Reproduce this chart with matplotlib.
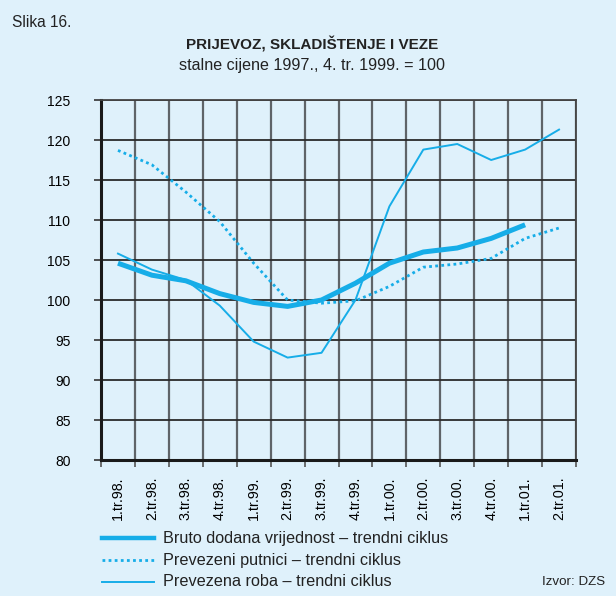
import matplotlib
matplotlib.use("Agg")
import matplotlib.pyplot as plt
from matplotlib.lines import Line2D
import numpy as np

categories = ["1.tr.98.", "2.tr.98.", "3.tr.98.", "4.tr.98.", "1.tr.99.", "2.tr.99.", "3.tr.99.",
              "4.tr.99.", "1.tr.00.", "2.tr.00.", "3.tr.00.", "4.tr.00.", "1.tr.01.", "2.tr.01."]
bruto = [104.6, 103.1, 102.4, 100.8, 99.7, 99.2, 100.0, 102.1, 104.6, 106.0, 106.5, 107.7, 109.4]
putnici = [118.7, 116.9, 113.5, 109.8, 104.6, 100.0, 99.6, 99.9, 101.7, 104.1, 104.5, 105.2, 107.7, 109.0]
roba = [105.8, 103.8, 102.5, 99.3, 94.8, 92.8, 93.4, 100.0, 111.7, 118.8, 119.5, 117.5, 118.8, 121.3]
yticks = [80, 85, 90, 95, 100, 105, 110, 115, 120, 125]

BG = "#dff1fb"
LC = "#16ade8"
plt.rcParams['font.family'] = ['Liberation Sans', 'DejaVu Sans']

fig = plt.figure(figsize=(6.16, 5.96), dpi=100, facecolor=BG)
ax = fig.add_axes([101/616, 1-460/596, 475/616, 360/596], facecolor=BG)

ax.plot(range(len(bruto)), bruto, color=LC, lw=3.6, solid_capstyle='butt', zorder=5)
ax.plot(range(len(putnici)), putnici, color=LC, lw=2.0, ls=(0, (1, 1.2)), zorder=4)
ax.plot(range(len(roba)), roba, color=LC, lw=1.4, zorder=4)

ax.set_xlim(-0.5, len(categories) - 0.5)
ax.set_ylim(80, 125)
ax.set_yticks(yticks)
ax.set_yticklabels([str(v) for v in yticks], fontsize=10)
ax.set_xticks(range(len(categories)))
ax.set_xticklabels(categories, rotation=90, fontsize=10.3)
ax.set_xticks(np.arange(-0.5, len(categories)), minor=True)
ax.tick_params(axis='x', which='major', length=0, pad=12)
ax.tick_params(axis='x', which='minor', length=5, width=1.2, color='#555555')
ax.tick_params(axis='y', which='major', length=5, width=1.2, color='#333333', pad=17)

ax.grid(True, axis='y', which='major', color='#2a2a2a', lw=1.3)
ax.grid(True, axis='x', which='minor', color='#5f6468', lw=1.6)
ax.set_axisbelow(True)
for s in ['left', 'bottom']:
    ax.spines[s].set_color('#1a1a1a')
    ax.spines[s].set_linewidth(2.2)
for s in ['top', 'right']:
    ax.spines[s].set_color('#444444')
    ax.spines[s].set_linewidth(1.3)

fig.text(12/616, 1-22.5/596, "Slika 16.", fontsize=11.2, va='center', ha='left', color='#222222')
fig.text(312/616, 1-44/596, "PRIJEVOZ, SKLADIŠTENJE I VEZE", fontsize=11, fontweight='bold',
         va='center', ha='center', color='#222222')
fig.text(312/616, 1-65.5/596, "stalne cijene 1997., 4. tr. 1999. = 100", fontsize=11.6,
         va='center', ha='center', color='#222222')

legend_items = [("Bruto dodana vrijednost – trendni ciklus", dict(lw=3.2)),
                ("Prevezeni putnici – trendni ciklus", dict(lw=2.0, ls=(0, (1, 1.2)))),
                ("Prevezena roba – trendni ciklus", dict(lw=1.4))]
ys = [538, 560, 582]
for (lab, kw), y in zip(legend_items, ys):
    yf = 1 - y/596
    fig.add_artist(Line2D([102/616, 154/616], [yf, yf], color=LC, **kw))
    fig.text(163/616, yf, lab, fontsize=11.7, va='center', ha='left', color='#222222')
fig.text(605/616, 1-582/596, "Izvor: DZS", fontsize=9.6, va='center', ha='right', color='#222222')

fig.savefig("out.png", dpi=100, facecolor=BG)
